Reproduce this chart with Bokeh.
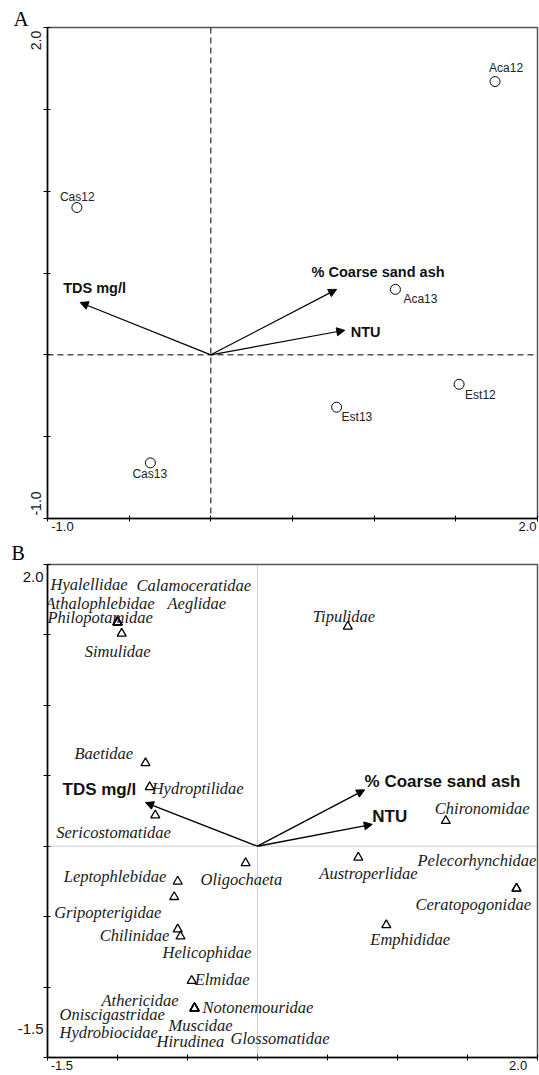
from bokeh.plotting import figure
from bokeh.models import (ColumnDataSource, Range1d, FixedTicker, Span, Arrow, NormalHead,
                          LinearAxis, Title)
from bokeh.layouts import column
from bokeh.embed import file_html
from bokeh.resources import INLINE
from bokeh.core.properties import value

# ---------------- data: panel A (sites + environmental vectors) ----------------
site_names = ["Aca12", "Aca13", "Cas12", "Cas13", "Est12", "Est13"]
site_x = [1.74, 1.13, -0.82, -0.37, 1.52, 0.77]
site_y = [1.67, 0.40, 0.90, -0.66, -0.18, -0.32]

env_names = ["TDS mg/l", "% Coarse sand ash", "NTU"]
env_a_x = [-0.80, 0.77, 0.82]
env_a_y = [0.32, 0.40, 0.15]

a_ticks = [-1.0, -0.5, 0.0, 0.5, 1.0, 1.5, 2.0]

# ---------------- data: panel B (taxa + environmental vectors) ----------------
taxa_names = ["Hyalellidae", "Calamoceratidae", "Athalophlebidae", "Aeglidae", "Philopotamidae",
              "Simulidae", "Baetidae", "Hydroptilidae", "Sericostomatidae", "Oligochaeta",
              "Leptophlebidae", "Gripopterigidae", "Chilinidae", "Helicophidae", "Elmidae",
              "Athericidae", "Notonemouridae", "Oniscigastridae", "Muscidae", "Hydrobiocidae",
              "Hirudinea", "Glossomatidae", "Tipulidae", "Chironomidae", "Austroperlidae",
              "Pelecorhynchidae", "Ceratopogonidae", "Emphididae"]
taxa_x = [-1.00, -1.00, -1.00, -1.00, -1.00,
          -0.97, -0.80, -0.77, -0.73, -0.085,
          -0.57, -0.595, -0.57, -0.55, -0.47,
          -0.45, -0.45, -0.45, -0.45, -0.45,
          -0.45, -0.45, 0.645, 1.345, 0.72,
          1.85, 1.85, 0.92]
taxa_y = [1.59, 1.59, 1.59, 1.59, 1.59,
          1.51, 0.59, 0.42, 0.22, -0.12,
          -0.25, -0.36, -0.59, -0.64, -0.955,
          -1.15, -1.15, -1.15, -1.15, -1.15,
          -1.15, -1.15, 1.56, 0.18, -0.08,
          -0.30, -0.30, -0.56]

env_b_x = [-0.80, 0.765, 0.82]
env_b_y = [0.31, 0.40, 0.155]

b_ticks = [-1.5, -1.0, -0.5, 0.0, 0.5, 1.0, 1.5, 2.0]

# ---------------- label placement (screen px offsets, +dy = down) ----------------
site_dx = [-6, 8, -17, -18, 6, 5]
site_dy = [-14, 10, -11, 11, 11, 10]
env_a_dx = [-17, -25, 6]
env_a_dy = [-14, -17, 2]
env_b_dx = [-83, 0, 0]
env_b_dy = [-13, -8, -8]
taxa_dx = [-67, 19, -72, 50, -70,
           -37, -71, 2, -99, -45,
           -114, -120, -78, -18, 3,
           -93, 8, -135, -26, -135,
           -38, 36, -35, -11, -39,
           -99, -101, -16]
taxa_dy = [-38, -37, -19, -19, -5,
           18, -10, 1, 17, 16,
           -5, 16, 6, 16, -1,
           -8, -1, 6, 17, 24,
           33, 30, -10, -12, 16,
           -28, 16, 14]

# frame sizes (px) and label shifts (px, towards the inside of the frame)
A_FW, A_FH = 491, 491
B_FW, B_FH = 493, 495
a_ppx = A_FW / (a_ticks[-1] - a_ticks[0])
a_ppy = A_FH / (a_ticks[-1] - a_ticks[0])
b_ppx = B_FW / (b_ticks[-1] - b_ticks[0])
b_ppy = B_FH / (b_ticks[-1] - b_ticks[0])

SANS = value("Liberation Sans")
SERIF = value("Liberation Serif")
fmt = lambda v: f"{v:.1f}"


def style_axes(p, ticks, tick_out_x, tick_out_y):
    for ax, tout in ((p.xaxis[0], tick_out_x), (p.yaxis[0], tick_out_y)):
        ax.ticker = FixedTicker(ticks=ticks)
        ax.minor_tick_line_color = None
        ax.major_label_text_font_size = "0px"
        ax.major_label_text_color = None
        ax.major_label_standoff = 0
        ax.axis_line_color = "black"
        ax.axis_line_width = 1.5
        ax.major_tick_line_color = "black"
        ax.major_tick_line_width = 1
        ax.major_tick_in = 3
        ax.major_tick_out = tout
    p.grid.visible = False
    p.outline_line_color = "#555555"
    p.outline_line_width = 1.5
    p.background_fill_color = "white"
    p.border_fill_color = "white"


def label_axis(p, side, positions, texts, size, standoff, orientation="horizontal"):
    pos = [round(v, 4) for v in positions]
    ax = LinearAxis(ticker=FixedTicker(ticks=pos),
                    major_label_overrides={k: t for k, t in zip(pos, texts)},
                    axis_line_color=None, major_tick_line_color=None, minor_tick_line_color=None,
                    major_tick_in=0, major_tick_out=0, major_label_standoff=standoff,
                    major_label_orientation=orientation,
                    major_label_text_font="Liberation Sans", major_label_text_font_size=size,
                    major_label_text_color="#111111")
    p.add_layout(ax, side)


# ================= Panel A =================
pA = figure(width=539, height=538, x_range=Range1d(a_ticks[0], a_ticks[-1]),
            y_range=Range1d(a_ticks[0], a_ticks[-1]), output_backend="svg",
            toolbar_location=None, title=None,
            min_border_left=47, min_border_right=1, min_border_top=27, min_border_bottom=20)
style_axes(pA, a_ticks, 3, 4)
pA.add_layout(Span(location=0, dimension="height", line_color="black", line_width=1, line_dash="6 4"))
pA.add_layout(Span(location=0, dimension="width", line_color="black", line_width=1, line_dash="6 4"))

srcA_env = ColumnDataSource(dict(x0=[0.0] * 3, y0=[0.0] * 3, x=env_a_x, y=env_a_y,
                                 name=env_names, dx=env_a_dx, dy=env_a_dy))
pA.add_layout(Arrow(end=NormalHead(size=8, fill_color="black", line_color="black", line_width=1),
                    x_start="x0", y_start="y0", x_end="x", y_end="y", source=srcA_env,
                    line_color="black", line_width=1.2))
pA.text(x="x", y="y", text="name", x_offset="dx", y_offset="dy", source=srcA_env,
        text_font=SANS, text_font_style="bold", text_font_size="14.5px",
        text_align="left", text_baseline="middle", text_color="#111111")

srcA_sites = ColumnDataSource(dict(x=site_x, y=site_y, name=site_names, dx=site_dx, dy=site_dy))
pA.scatter(x="x", y="y", source=srcA_sites, marker="circle", size=10, fill_color=None,
           line_color="black", line_width=1)
pA.text(x="x", y="y", text="name", x_offset="dx", y_offset="dy", source=srcA_sites,
        text_font=SANS, text_font_size="12px", text_align="left", text_baseline="middle",
        text_color="#222222")

label_axis(pA, "left", [a_ticks[-1] - 13 / a_ppy, a_ticks[0] + 15 / a_ppy],
           [fmt(a_ticks[-1]), fmt(a_ticks[0])], "14px", 2, "vertical")
label_axis(pA, "below", [a_ticks[0] + 15 / a_ppx, a_ticks[-1] - 10 / a_ppx],
           [fmt(a_ticks[0]), fmt(a_ticks[-1])], "13px", 0)
pA.add_layout(Title(text="A", align="left", offset=-34, standoff=-6,
                    text_font="Liberation Serif", text_font_size="21px",
                    text_font_style="normal", text_color="black"), "above")

# ================= Panel B =================
pB = figure(width=539, height=537, x_range=Range1d(b_ticks[0], b_ticks[-1]),
            y_range=Range1d(b_ticks[0], b_ticks[-1]), output_backend="svg",
            toolbar_location=None, title=None,
            min_border_left=44, min_border_right=2, min_border_top=24, min_border_bottom=18)
style_axes(pB, b_ticks, 3, 4)
pB.add_layout(Span(location=0, dimension="height", line_color="#9a9a9a", line_width=1, line_dash="1 1"))
pB.add_layout(Span(location=0, dimension="width", line_color="#9a9a9a", line_width=1, line_dash="1 1"))

srcB_env = ColumnDataSource(dict(x0=[0.0] * 3, y0=[0.0] * 3, x=env_b_x, y=env_b_y,
                                 name=env_names, dx=env_b_dx, dy=env_b_dy))
pB.add_layout(Arrow(end=NormalHead(size=8, fill_color="black", line_color="black", line_width=1),
                    x_start="x0", y_start="y0", x_end="x", y_end="y", source=srcB_env,
                    line_color="black", line_width=1.4))
pB.text(x="x", y="y", text="name", x_offset="dx", y_offset="dy", source=srcB_env,
        text_font=SANS, text_font_style="bold", text_font_size="17px",
        text_align="left", text_baseline="middle", text_color="#111111")

srcB_taxa = ColumnDataSource(dict(x=taxa_x, y=taxa_y, name=taxa_names, dx=taxa_dx, dy=taxa_dy))
pB.scatter(x="x", y="y", source=srcB_taxa, marker="triangle", size=9, fill_color=None,
           line_color="black", line_width=1.3)
pB.text(x="x", y="y", text="name", x_offset="dx", y_offset="dy", source=srcB_taxa,
        text_font=SERIF, text_font_style="italic", text_font_size="16.5px",
        text_align="left", text_baseline="middle", text_color="#1a1a1a")

label_axis(pB, "left", [b_ticks[-1] - 13 / b_ppy, b_ticks[0] + 29 / b_ppy],
           [fmt(b_ticks[-1]), fmt(b_ticks[0])], "15px", 0)
label_axis(pB, "below", [b_ticks[0] + 14.5 / b_ppx, b_ticks[-1] - 19.5 / b_ppx],
           [fmt(b_ticks[0]), fmt(b_ticks[-1])], "13px", 0)
pB.add_layout(Title(text="B", align="left", offset=-36, standoff=2,
                    text_font="Liberation Serif", text_font_size="20px",
                    text_font_style="normal", text_color="black"), "above")

layout = column(pA, pB, spacing=0)
open("out.html", "w").write(file_html(layout, INLINE))
